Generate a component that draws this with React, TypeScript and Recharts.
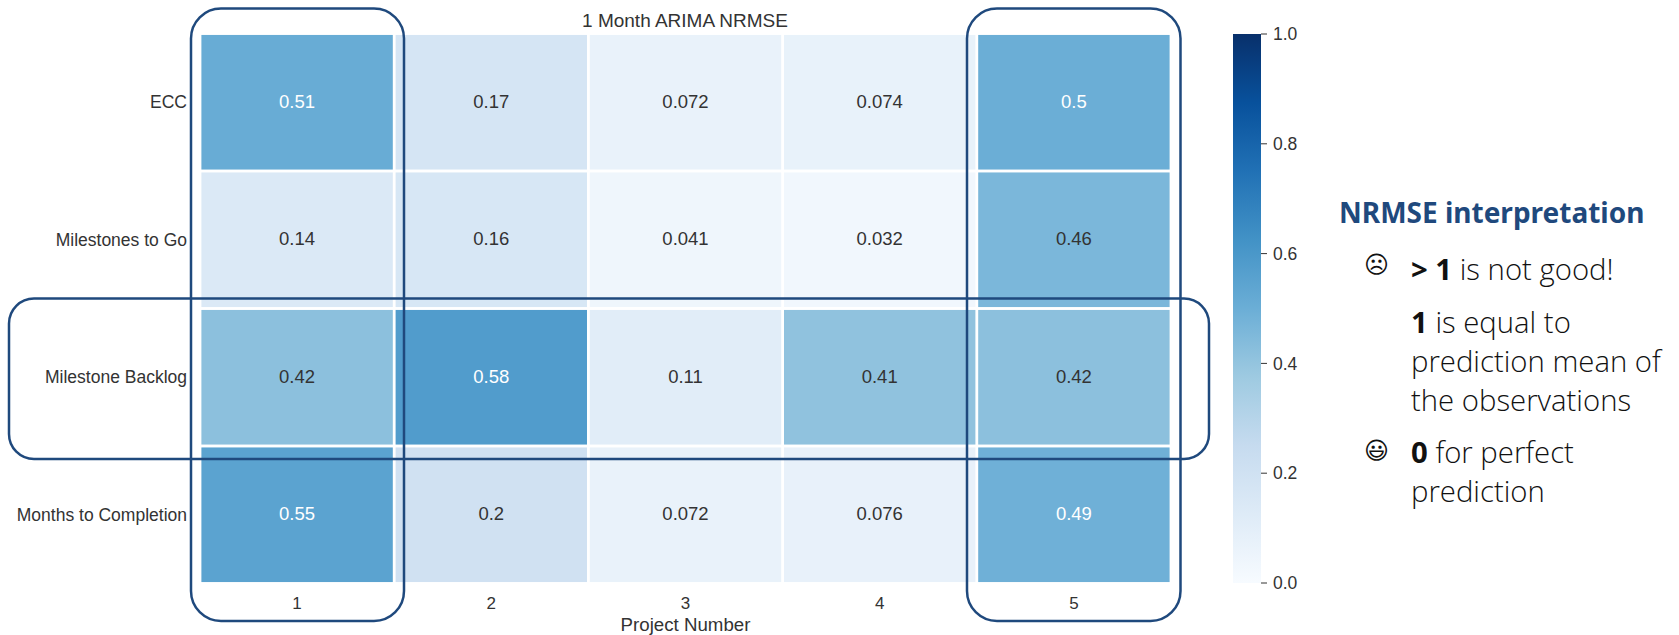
import { Bar, BarChart, Scatter, ScatterChart, XAxis, YAxis } from 'recharts';

const projects = [1, 2, 3, 4, 5];
const metrics = ['ECC', 'Milestones to Go', 'Milestone Backlog', 'Months to Completion'];

const eccValues = [0.51, 0.17, 0.072, 0.074, 0.5];
const milestonesToGoValues = [0.14, 0.16, 0.041, 0.032, 0.46];
const backlogValues = [0.42, 0.58, 0.11, 0.41, 0.42];
const monthsValues = [0.55, 0.2, 0.072, 0.076, 0.49];
const rows = [eccValues, milestonesToGoValues, backlogValues, monthsValues];

const colorbarTicks = [0, 0.2, 0.4, 0.6, 0.8, 1];
const BLUES = ['#f7fbff', '#deebf7', '#c6dbef', '#9ecae1', '#6baed6', '#4292c6', '#2171b5', '#08519c', '#08306b'];

const TEXT = '#333333';
const NAVY = '#1f497d';
const TICK_FONT = '"Liberation Sans", Arial, sans-serif';
const NOTE_FONT = '"Open Sans", sans-serif';

const cellData = rows.flatMap((values, r) =>
  values.map((value, c) => ({ project: projects[c], row: r + 1, value }))
);

const hexToRgb = (hex: string) => [1, 3, 5].map(i => parseInt(hex.slice(i, i + 2), 16));

const bluesColor = (v: number) => {
  const pos = v * (BLUES.length - 1);
  const i = Math.min(Math.floor(pos), BLUES.length - 2);
  const a = hexToRgb(BLUES[i]);
  const b = hexToRgb(BLUES[i + 1]);
  const mix = a.map((n, k) => Math.round(n + (b[k] - n) * (pos - i)));
  return `rgb(${mix.join(',')})`;
};

const HeatCell = ({ cx, cy, payload }: any) => {
  const w = 191.4;
  const h = 134.6;
  return (
    <g>
      <rect x={cx - w / 2} y={cy - h / 2} width={w} height={h} fill={bluesColor(payload.value)} />
      <text
        x={cx}
        y={cy - 1}
        textAnchor="middle"
        dominantBaseline="central"
        fontFamily={TICK_FONT}
        fontSize={18.5}
        fill={payload.value >= 0.49 ? '#ffffff' : TEXT}
      >
        {payload.value}
      </text>
    </g>
  );
};

const Note = ({ top, children }: any) => (
  <div style={{ position: 'absolute', left: 1411, top, fontFamily: NOTE_FONT, fontWeight: 300, fontSize: 29.3, lineHeight: '39px', color: '#111', whiteSpace: 'nowrap' }}>
    {children}
  </div>
);

const Face = ({ top, glyph }: any) => (
  <div style={{ position: 'absolute', left: 1364, top, fontFamily: '"DejaVu Sans"', fontSize: 24, lineHeight: '28px', color: '#111' }}>
    {glyph}
  </div>
);

export default function App() {
  return (
    <div style={{ position: 'absolute', left: 0, top: 0, width: 1679, height: 635, background: '#fff', overflow: 'hidden' }}>
      <div style={{ position: 'absolute', left: 0, top: 0 }}>
        <ScatterChart width={1260} height={635} margin={{ top: 33.5, left: 10, right: 89, bottom: 0 }}>
          <XAxis
            type="number"
            dataKey="project"
            domain={[0.5, 5.5]}
            ticks={projects}
            axisLine={false}
            tickLine={false}
            height={51.5}
            tickMargin={7}
            tick={{ fontFamily: TICK_FONT, fontSize: 17, fill: TEXT }}
            label={{ value: 'Project Number', position: 'insideBottom', offset: 4, fontFamily: TICK_FONT, fontSize: 18.7, fill: TEXT }}
          />
          <YAxis
            type="number"
            dataKey="row"
            domain={[0.5, 4.5]}
            ticks={[1, 2, 3, 4]}
            reversed
            axisLine={false}
            tickLine={false}
            width={190}
            tickMargin={7}
            tickFormatter={(v: number) => metrics[v - 1]}
            tick={{ fontFamily: TICK_FONT, fontSize: 17.5, fill: TEXT }}
          />
          <Scatter data={cellData} shape={HeatCell} isAnimationActive={false} />
        </ScatterChart>
      </div>

      <div style={{ position: 'absolute', left: 1233, top: 0 }}>
        <BarChart
          width={100}
          height={635}
          data={[{ v: 1 }]}
          barCategoryGap={0}
          margin={{ top: 34, left: 0, right: 22, bottom: 52 }}
        >
          <defs>
            <linearGradient id="blues" x1="0" y1="1" x2="0" y2="0">
              {BLUES.map((c, i) => (
                <stop key={c} offset={i / (BLUES.length - 1)} stopColor={c} />
              ))}
            </linearGradient>
          </defs>
          <XAxis hide />
          <YAxis
            orientation="right"
            domain={[0, 1]}
            ticks={colorbarTicks}
            interval={0}
            width={50}
            axisLine={false}
            tickSize={6}
            tickMargin={6}
            tickLine={{ stroke: TEXT }}
            tickFormatter={(v: number) => v.toFixed(1)}
            tick={{ fontFamily: TICK_FONT, fontSize: 17.5, fill: TEXT }}
          />
          <Bar dataKey="v" fill="url(#blues)" isAnimationActive={false} />
        </BarChart>
      </div>

      <div style={{ position: 'absolute', left: 485, width: 400, top: 10, textAlign: 'center', fontFamily: TICK_FONT, fontSize: 19, lineHeight: '22px', color: TEXT }}>
        1 Month ARIMA NRMSE
      </div>

      {/* highlight boxes drawn over the chart */}
      <svg width={1679} height={635} style={{ position: 'absolute', left: 0, top: 0, pointerEvents: 'none' }}>
        <g fill="none" stroke={NAVY} strokeWidth={2.5}>
          <rect x={191} y={8.5} width={213} height={612.5} rx={30} />
          <rect x={967} y={8.5} width={213.5} height={612.5} rx={30} />
          <rect x={9} y={298.5} width={1200} height={160.5} rx={25} />
        </g>
      </svg>

      <div style={{ position: 'absolute', left: 1339, top: 192, fontFamily: '"Noto Sans", sans-serif', fontWeight: 700, fontSize: 28, lineHeight: '40px', color: NAVY, whiteSpace: 'nowrap' }}>
        NRMSE interpretation
      </div>

      <Face top={251} glyph="☹" />
      <Note top={250}><b style={{ fontWeight: 700 }}>&gt; 1</b> is not good!</Note>
      <Note top={303}><b style={{ fontWeight: 700 }}>1</b> is equal to<br />prediction mean of<br />the observations</Note>
      <Face top={437} glyph="😃" />
      <Note top={433}><b style={{ fontWeight: 700 }}>0</b> for perfect<br />prediction</Note>
    </div>
  );
}
